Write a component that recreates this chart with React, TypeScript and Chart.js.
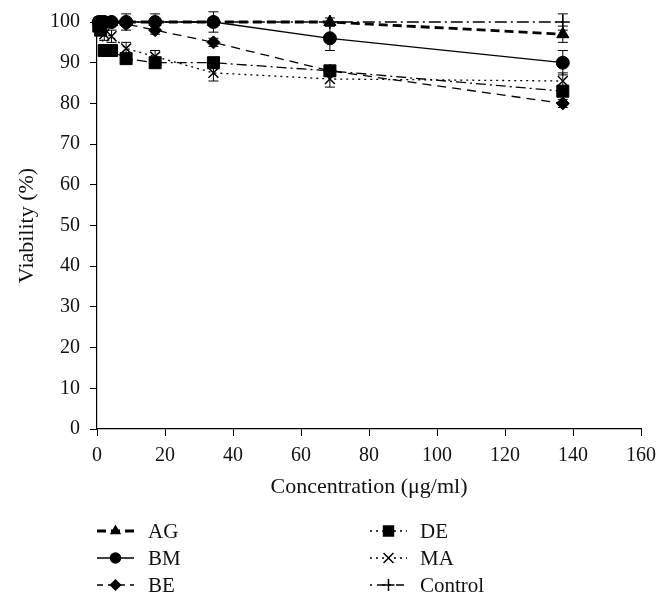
import React, { useEffect, useRef } from 'react';
import { Chart, registerables } from 'chart.js';
import { drawPoint } from 'chart.js/helpers';

Chart.register(...registerables);

// ---- data ----
const concentrations = [0.53, 1.07, 2.14, 4.28, 8.56, 17.1, 34.25, 68.5, 137];
const agValues = [100, 100, 100, 100, 100, 100, 100, 100, 97];
const agErrors = [0, 0, 0, 0, 0, 0, 1, 1, 2];
const bmValues = [100, 100, 100, 100, 100, 100, 100, 96, 90];
const bmErrors = [0, 0, 0, 0, 2, 2, 2.5, 3, 3];
const beValues = [100, 100, 100, 100, 99.5, 98, 95, 88, 80];
const beErrors = [0, 0, 0, 0, 0, 1, 1, 1, 1];
const deValues = [99, 98, 93, 93, 91, 90, 90, 88, 83];
const deErrors = [1, 1, 1, 1, 1, 1, 1, 1, 1];
const maValues = [100, 98, 97, 96.5, 93.5, 91.5, 87.5, 86, 85.5];
const maErrors = [1, 1, 1.5, 1.5, 1.5, 1.5, 2, 2, 2];
const controlValues = [100, 100, 100, 100, 100, 100, 100, 100, 100];
const controlErrors = [0, 0, 0, 0, 0, 0, 0, 0, 2];
const seriesNames = ['AG', 'BM', 'BE', 'DE', 'MA', 'Control'];
const xAxisTitle = 'Concentration (μg/ml)';
const yAxisTitle = 'Viability (%)';

const FONT = '"Liberation Serif", "Times New Roman", serif';

const errorBarPlugin = {
  id: 'errorBars',
  afterDatasetsDraw(chart: any) {
    const ctx = chart.ctx;
    const yScale = chart.scales.y;
    ctx.save();
    ctx.strokeStyle = '#000';
    ctx.lineWidth = 1;
    ctx.setLineDash([]);
    chart.data.datasets.forEach((ds: any, i: number) => {
      const meta = chart.getDatasetMeta(i);
      meta.data.forEach((pt: any, j: number) => {
        const e = ds.errors ? ds.errors[j] : 0;
        if (!e) return;
        const v = ds.data[j].y;
        const yTop = yScale.getPixelForValue(v + e);
        const yBot = yScale.getPixelForValue(v - e);
        const x = pt.x;
        ctx.beginPath();
        ctx.moveTo(x, yTop);
        ctx.lineTo(x, yBot);
        ctx.moveTo(x - 5, yTop);
        ctx.lineTo(x + 5, yTop);
        ctx.moveTo(x - 5, yBot);
        ctx.lineTo(x + 5, yBot);
        ctx.stroke();
      });
    });
    ctx.restore();
  },
};

// legend layout (column-major, two columns of three)
const legendPlugin = {
  id: 'colLegend',
  afterDraw(chart: any) {
    const ctx = chart.ctx;
    const cols = [
      { x1: 97, x2: 134, tx: 148 },
      { x1: 370, x2: 407, tx: 420 },
    ];
    const rows = [531, 558, 585];
    ctx.save();
    chart.data.datasets.forEach((ds: any, i: number) => {
      const c = cols[Math.floor(i / 3)];
      const y = rows[i % 3];
      ctx.strokeStyle = '#000';
      ctx.lineWidth = ds.borderWidth;
      ctx.setLineDash(ds.legendDash || ds.borderDash || []);
      ctx.beginPath();
      ctx.moveTo(c.x1, y);
      ctx.lineTo(c.x2, y);
      ctx.stroke();
      ctx.setLineDash([]);
      ctx.fillStyle = '#000';
      ctx.lineWidth = 1.5;
      drawPoint(ctx, { pointStyle: ds.pointStyle, radius: ds.legendRadius, rotation: 0, borderWidth: 1.5 }, (c.x1 + c.x2) / 2, y);
      ctx.fillStyle = '#111';
      ctx.font = `21px ${FONT}`;
      ctx.textBaseline = 'middle';
      ctx.textAlign = 'left';
      ctx.fillText(ds.label, c.tx, y + 1);
    });
    ctx.restore();
  },
};

function mk(label: string, values: number[], errors: number[], style: any) {
  return {
    label,
    data: concentrations.map((c, i) => ({ x: c, y: values[i] })),
    errors,
    borderColor: '#000',
    backgroundColor: '#000',
    pointBackgroundColor: '#000',
    pointBorderColor: '#000',
    pointBorderWidth: 1,
    fill: false,
    tension: 0,
    clip: false,
    ...style,
  };
}

export default function App() {
  const ref = useRef<HTMLCanvasElement>(null);
  useEffect(() => {
    document.body.style.margin = '0';
    const canvas = ref.current!;
    const datasets = [
      mk(seriesNames[0], agValues, agErrors, { borderWidth: 2.8, borderDash: [9, 5], pointStyle: 'triangle', pointRadius: 7, legendRadius: 5 }),
      mk(seriesNames[1], bmValues, bmErrors, { borderWidth: 1.3, borderDash: [], pointStyle: 'circle', pointRadius: 6.5, legendRadius: 5 }),
      mk(seriesNames[2], beValues, beErrors, { borderWidth: 1.3, borderDash: [9, 6], pointStyle: 'rectRot', pointRadius: 6.5, legendRadius: 5, legendDash: [6, 5] }),
      mk(seriesNames[3], deValues, deErrors, { borderWidth: 1.3, borderDash: [10, 4, 2, 4], pointStyle: 'rect', pointRadius: 8.5, legendRadius: 7, legendDash: [2, 4] }),
      mk(seriesNames[4], maValues, maErrors, { borderWidth: 1.3, borderDash: [2, 4], pointStyle: 'crossRot', pointRadius: 7, legendRadius: 7, pointBorderWidth: 1.5 }),
      mk(seriesNames[5], controlValues, controlErrors, { borderWidth: 1.3, borderDash: [12, 4, 2, 4], pointStyle: 'cross', pointRadius: 7, legendRadius: 6, pointBorderWidth: 1.5, legendDash: [2, 5, 8, 4] }),
    ];
    const chart = new Chart(canvas, {
      type: 'line',
      data: { datasets },
      options: {
        responsive: false,
        animation: false,
        devicePixelRatio: 1,
        events: [],
        layout: { padding: { top: 21, right: 29, left: 0, bottom: 102 } },
        plugins: { legend: { display: false }, tooltip: { enabled: false } },
        scales: {
          x: {
            type: 'linear',
            min: 0,
            max: 160,
            ticks: { stepSize: 20, color: '#111', font: { family: FONT, size: 20 }, padding: 8, maxRotation: 0 },
            grid: { drawOnChartArea: false, drawTicks: true, tickLength: 7, color: '#000' },
            border: { display: true, color: '#000', width: 1.2 },
            title: { display: true, text: xAxisTitle, color: '#111', font: { family: FONT, size: 22 }, padding: { top: 4, bottom: 4 } },
            afterFit(scale: any) { scale.height = 75; },
          },
          y: {
            type: 'linear',
            min: 0,
            max: 100,
            ticks: { stepSize: 10, color: '#111', font: { family: FONT, size: 20 }, padding: 10 },
            grid: { drawOnChartArea: false, drawTicks: true, tickLength: 7, color: '#000' },
            border: { display: true, color: '#000', width: 1.2 },
            title: { display: true, text: yAxisTitle, color: '#111', font: { family: FONT, size: 22 }, padding: { top: 14, bottom: 4 } },
            afterFit(scale: any) { scale.width = 97; },
          },
        },
      } as any,
      plugins: [errorBarPlugin, legendPlugin],
    });
    return () => chart.destroy();
  }, []);
  return (
    <div style={{ position: 'absolute', left: 0, top: 0, width: 670, height: 606, background: '#fff' }}>
      <canvas ref={ref} width={670} height={606} />
    </div>
  );
}
